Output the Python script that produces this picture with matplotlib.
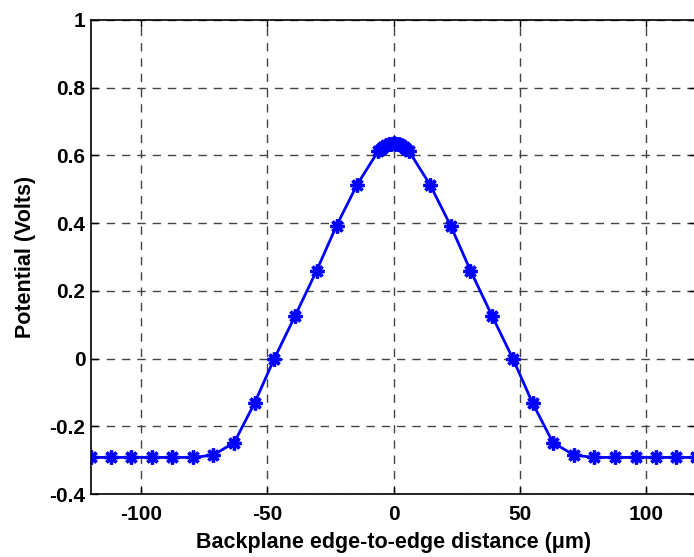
import matplotlib
matplotlib.use("Agg")
import matplotlib.pyplot as plt

# Values
distance_um = [
    -120, -112, -104, -96, -88, -79.5, -71.5, -63.2, -55.1, -47.3,
    -39, -30.5, -22.6, -14.5, -6,
    -5, -4, -3, -2, -1, 0, 1, 2, 3, 4, 5,
    6, 14.5, 22.6, 30.5, 39,
    47.3, 55.1, 63.2, 71.5, 79.5, 88, 96, 104, 112, 120,
]
potential_v = [
    -0.292, -0.292, -0.292, -0.292, -0.292, -0.292, -0.285, -0.248, -0.131, 0.0,
    0.127, 0.260, 0.393, 0.513, 0.614,
    0.620, 0.626, 0.630, 0.633, 0.635, 0.636, 0.635, 0.633, 0.630, 0.626, 0.620,
    0.614, 0.513, 0.393, 0.260, 0.127,
    0.0, -0.131, -0.248, -0.285, -0.292, -0.292, -0.292, -0.292, -0.292, -0.292,
]
x_ticks = [-100, -50, 0, 50, 100]
y_ticks = [-0.4, -0.2, 0, 0.2, 0.4, 0.6, 0.8, 1]
y_tick_labels = ["-0.4", "-0.2", "0", "0.2", "0.4", "0.6", "0.8", "1"]


def main():
    plt.rcParams["font.family"] = ["Liberation Sans", "DejaVu Sans"]
    plt.rcParams["font.weight"] = "bold"
    plt.rcParams["axes.unicode_minus"] = False  # plain hyphen like the original

    fig = plt.figure(figsize=(6.94, 5.57), dpi=100)
    # right edge of the axes sits just past the picture edge
    ax = fig.add_axes([0.1311, 0.1131, 0.872, 0.851])

    ax.plot(distance_um, potential_v, color="#0000ff", linewidth=2.0,
            marker=(8, 2, 0), markersize=10, markeredgewidth=2.4)

    ax.set_xlim(-120, 120)
    ax.set_ylim(-0.4, 1)
    ax.set_xticks(x_ticks)
    ax.set_yticks(y_ticks)
    ax.set_yticklabels(y_tick_labels)

    ax.grid(True, color="#444444", linestyle=(0, (6, 5)), linewidth=1.0)
    ax.tick_params(direction="in", length=5, width=1, labelsize=15,
                   top=True, right=True)
    ax.tick_params(axis="y", pad=4)
    ax.tick_params(axis="x", pad=8)
    for spine in ax.spines.values():
        spine.set_linewidth(1.2)

    ax.set_xlabel("Backplane edge-to-edge distance (\u03bcm)", fontsize=15.5,
                  fontweight="bold", labelpad=6)
    ax.set_ylabel("Potential (Volts)", fontsize=15.5, fontweight="bold",
                  labelpad=10)

    fig.savefig("out.png", dpi=100)


if __name__ == "__main__":
    main()
